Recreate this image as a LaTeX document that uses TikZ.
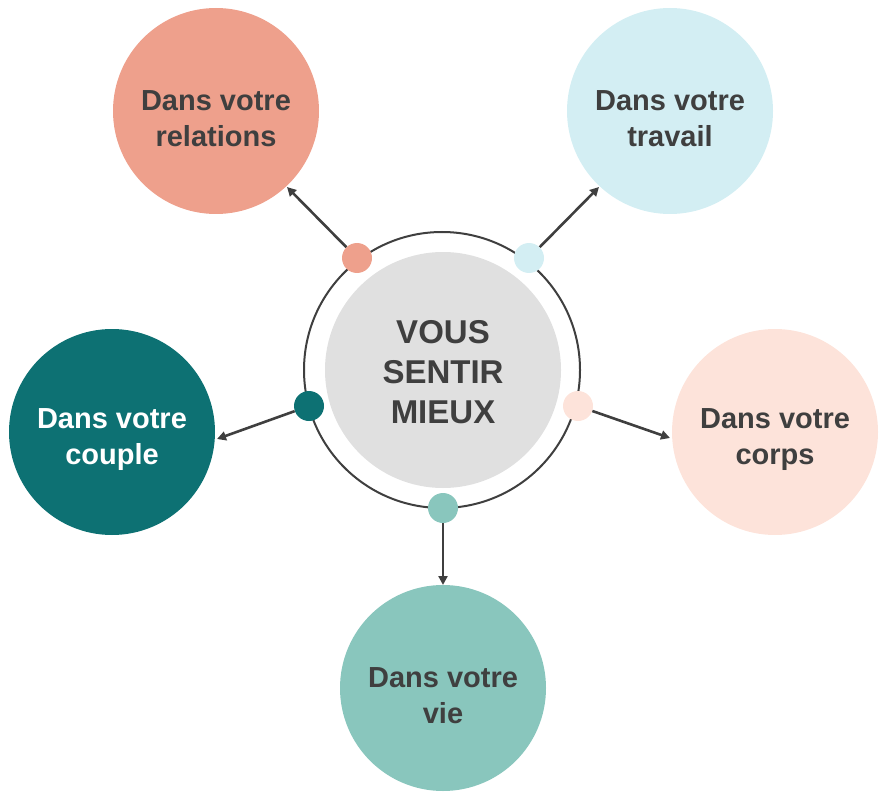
\documentclass[tikz,border=0pt]{standalone}
\usepackage{fontspec}
\setmainfont{Liberation Sans}
\usetikzlibrary{arrows.meta}
\definecolor{salmon}{HTML}{EEA08C}
\definecolor{skyb}{HTML}{D3EEF3}
\definecolor{tealc}{HTML}{0D7173}
\definecolor{pinkc}{HTML}{FDE3DA}
\definecolor{mint}{HTML}{89C6BD}
\definecolor{grayc}{HTML}{E0E0E0}
\definecolor{darkt}{HTML}{3F3F3F}
\tikzset{
  big/.style={circle, minimum size=206pt, inner sep=0pt},
  txt/.style={align=center, text=darkt, inner sep=0pt,
    font=\bfseries\fontsize{29}{36}\selectfont},
  dot/.style={circle, minimum size=30pt, inner sep=0pt},
  arr/.style={draw=darkt, line width=2.6pt, -{Triangle[length=9pt,width=9pt]}},
}
\begin{document}
\begin{tikzpicture}[x=1pt,y=-1pt]
\useasboundingbox (0,0) rectangle (888,810);
\node[circle, draw=darkt, line width=2pt, minimum size=276pt, inner sep=0pt] (ring) at (442,370) {};
\node[circle, fill=grayc, minimum size=236pt, inner sep=0pt] (center) at (443,370) {};
\node[align=center, text=darkt, inner sep=0pt,
  font=\bfseries\fontsize{33}{40}\selectfont] (ctext) at ([yshift=-2pt]center.center) {VOUS\\SENTIR\\MIEUX};
\node[big, fill=salmon] (rel) at (216,111) {};
\node[big, fill=skyb] (trav) at (670,111) {};
\node[big, fill=tealc] (coup) at (112,432) {};
\node[big, fill=pinkc] (corps) at (775,432) {};
\node[big, fill=mint] (vie) at (443,688) {};
\node[txt] (relt) at ([yshift=-8pt]rel.center) {Dans votre\\relations};
\node[txt] (travt) at ([yshift=-8pt]trav.center) {Dans votre\\travail};
\node[txt, text=white] (coupt) at ([yshift=-8pt]coup.center) {Dans votre\\couple};
\node[txt] (corpst) at ([yshift=-8pt]corps.center) {Dans votre\\corps};
\node[txt] (viet) at ([yshift=-8pt]vie.center) {Dans votre\\vie};
\node[dot, fill=salmon] (d1) at (357,258) {};
\node[dot, fill=skyb] (d2) at (529,258) {};
\node[dot, fill=tealc] (d3) at (309,406) {};
\node[dot, fill=pinkc] (d4) at (578,406) {};
\node[dot, fill=mint] (d5) at (443,508) {};
\coordinate (t1) at (287,187);
\coordinate (t2) at (599,187);
\coordinate (t3) at (217,439);
\coordinate (t4) at (670,438);
\coordinate (t5) at (443,585);
\draw[arr] (d1) -- (t1);
\draw[arr] (d2) -- (t2);
\draw[arr] (d3) -- (t3);
\draw[arr] (d4) -- (t4);
\draw[arr] (d5) -- (t5);
\end{tikzpicture}
\end{document}
